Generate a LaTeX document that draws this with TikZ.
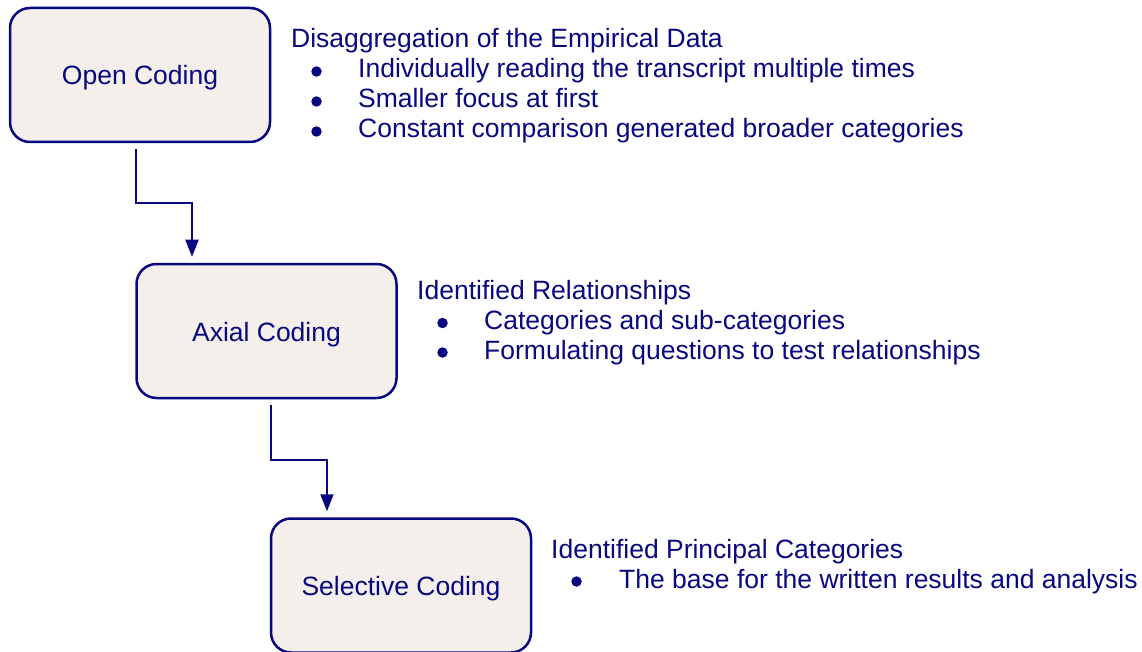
\documentclass[tikz,border=0pt]{standalone}
\usepackage{fontspec}
\setmainfont{Liberation Sans}
\usetikzlibrary{arrows.meta}
\definecolor{navyc}{RGB}{8,8,128}
\definecolor{boxfill}{RGB}{244,239,235}
\begin{document}
\begin{tikzpicture}[x=1pt,y=-1pt,
  stage/.style={draw=navyc, line width=2.5pt, fill=boxfill, rounded corners=20pt,
    minimum width=260pt, minimum height=134pt, inner sep=0pt, text=navyc,
    font=\fontsize{26.5}{30}\selectfont, text height=20pt, text depth=0pt},
  txt/.style={anchor=base west, inner sep=0pt, text=navyc, font=\fontsize{26.5}{30}\selectfont},
  dot/.style={circle, fill=navyc, inner sep=0pt, minimum size=10.5pt},
  conn/.style={draw=navyc, line width=2pt, -{Triangle[length=17pt,width=13pt]},
    shorten <=6pt, shorten >=6pt}]
\useasboundingbox (0,0) rectangle (1142,652);

\node[stage] (b1) at (140,75) {Open Coding};
\node[stage] (b2) at (266.5,331) {Axial Coding};
\node[stage] (b3) at (401,585.5) {Selective Coding};

\draw[conn] ([xshift=-4pt]b1.south) -- ++(0,60) -| ([xshift=-74.5pt]b2.north);
\draw[conn] ([xshift=4.5pt]b2.south) -- ++(0,61) -| ([xshift=-74pt]b3.north);

% group 1
\node[txt] (t1) at (291,48) {Disaggregation of the Empirical Data};
\node[dot] (d11) at (316.5,71.5) {};
\node[txt] (t11) at (358,78) {Individually reading the transcript multiple times};
\node[dot] (d12) at (316.5,101.5) {};
\node[txt] (t12) at (358,108) {Smaller focus at first};
\node[dot] (d13) at (316.5,131.5) {};
\node[txt] (t13) at (358,138) {Constant comparison generated broader categories};

% group 2
\node[txt] (t2) at (417,299.5) {Identified Relationships};
\node[dot] (d21) at (442.5,323) {};
\node[txt] (t21) at (484,329.5) {Categories and sub-categories};
\node[dot] (d22) at (442.5,352.5) {};
\node[txt] (t22) at (484,359) {Formulating questions to test relationships};

% group 3
\node[txt] (t3) at (551,558) {Identified Principal Categories};
\node[dot] (d31) at (576.5,581.5) {};
\node[txt] (t31) at (619,588) {The base for the written results and analysis};
\end{tikzpicture}
\end{document}
